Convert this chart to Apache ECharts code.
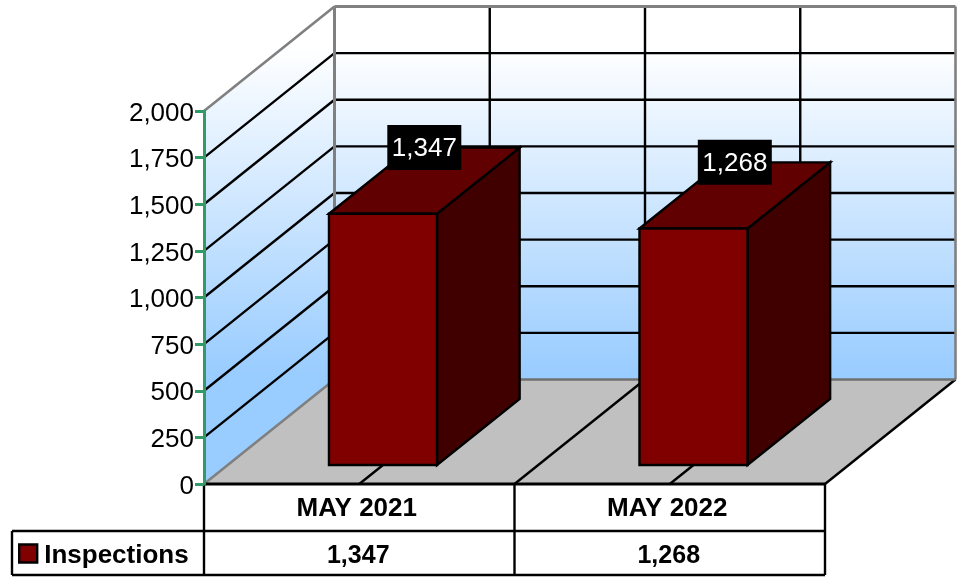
<!DOCTYPE html>
<html>
<head>
<meta charset="utf-8">
<style>html,body{margin:0;padding:0;background:#fff}#c{width:963px;height:577px}</style>
<script src="https://cdn.jsdelivr.net/npm/echarts@6/dist/echarts.min.js"></script>
</head>
<body>
<div id="c"></div>
<script>
const categories = ['MAY 2021', 'MAY 2022'];
const seriesName = 'Inspections';
const inspections = [1347, 1268];
const yTicks = [0, 250, 500, 750, 1000, 1250, 1500, 1750, 2000];

const FONT = '"Liberation Sans", Arial, sans-serif';
const DEPTH_X = 130.5, DEPTH_Y = -104.5;
const BAR_FRONT = 0.182, BAR_BACK = 0.815, BAR_WIDTH = 0.348;
const ROW1 = 47, ROW2 = 91, LEGEND_LEFT = 12;
const fmt = v => v.toLocaleString('en-US');
const yMax = yTicks[yTicks.length - 1];
const line = (x1, y1, x2, y2, stroke, w) => ({
  type: 'line', shape: { x1, y1, x2, y2 }, style: { stroke, lineWidth: w || 2.4 }, silent: true
});
const poly = (points, fill, stroke) => ({
  type: 'polygon', shape: { points }, style: { fill, stroke: stroke || 'none', lineWidth: 2.4, lineJoin: 'miter' }, silent: true
});

function renderFrame(params, api) {
  const w = api.size([1, 0])[0];
  const L = api.coord([0, 0])[0] - w / 2;
  const R = L + w * categories.length;
  const y0 = api.coord([0, 0])[1];
  const yT = api.coord([0, yMax])[1];
  const backY0 = y0 + DEPTH_Y, backYT = yT + DEPTH_Y;
  const grad = {
    type: 'linear', global: true, x: 0, y: backYT + 40, x2: 0, y2: backY0 - 5,
    colorStops: [{ offset: 0, color: '#ffffff' }, { offset: 1, color: '#99ccff' }]
  };
  const kids = [];
  kids.push(poly([[L + DEPTH_X, backYT], [R + DEPTH_X, backYT], [R + DEPTH_X, backY0], [L + DEPTH_X, backY0]], grad));
  kids.push(poly([[L, yT], [L + DEPTH_X, backYT], [L + DEPTH_X, backY0], [L, y0]], grad));
  kids.push(poly([[L, y0], [L + DEPTH_X, backY0], [R + DEPTH_X, backY0], [R, y0]], '#c0c0c0'));
  yTicks.forEach(t => {
    if (t === 0 || t === yMax) return;
    const y = api.coord([0, t])[1];
    kids.push(line(L, y, L + DEPTH_X, y + DEPTH_Y, '#000'));
    kids.push(line(L + DEPTH_X, y + DEPTH_Y, R + DEPTH_X, y + DEPTH_Y, '#000'));
  });
  for (let k = 1; k <= categories.length * 2; k++) {
    const x = L + k * w / 2;
    kids.push(line(x, y0, x + DEPTH_X, backY0, '#000'));
    if (k < categories.length * 2) kids.push(line(x + DEPTH_X, backYT, x + DEPTH_X, backY0, '#000'));
  }
  kids.push(line(L, yT, L + DEPTH_X, backYT, '#808080', 2.6));
  kids.push(line(L + DEPTH_X, backYT, R + DEPTH_X, backYT, '#808080', 3));
  kids.push(line(L + DEPTH_X, backYT, L + DEPTH_X, backY0, '#808080', 3));
  kids.push(line(R + DEPTH_X, backYT, R + DEPTH_X, backY0, '#808080', 2.6));
  kids.push(line(L + DEPTH_X, backY0, R + DEPTH_X, backY0, '#707070', 2.6));
  kids.push(line(L, y0, L + DEPTH_X, backY0, '#808080', 2.6));
  return { type: 'group', children: kids };
}

function renderBar(params, api) {
  const i = api.value(0), v = api.value(1);
  const w = api.size([1, 0])[0];
  const c = api.coord([i, 0]);
  const top = api.coord([i, v]);
  const bw = w * BAR_WIDTH;
  const fx = c[0] - bw / 2 + DEPTH_X * BAR_FRONT, fx2 = fx + bw;
  const fy = c[1] + DEPTH_Y * BAR_FRONT, ty = top[1] + DEPTH_Y * BAR_FRONT;
  const dx = DEPTH_X * (BAR_BACK - BAR_FRONT), dy = DEPTH_Y * (BAR_BACK - BAR_FRONT);
  return {
    type: 'group',
    children: [
      poly([[fx2, ty], [fx2 + dx, ty + dy], [fx2 + dx, fy + dy], [fx2, fy]], '#400000', '#000'),
      poly([[fx, ty], [fx + dx, ty + dy], [fx2 + dx, ty + dy], [fx2, ty]], '#600000', '#000'),
      poly([[fx, ty], [fx2, ty], [fx2, fy], [fx, fy]], '#800000', '#000'),
      {
        type: 'rect', silent: true,
        shape: { x: (fx + fx2 + dx) / 2 - 37, y: ty + dy - 22.5, width: 74, height: 45 },
        style: { fill: '#000' }
      },
      {
        type: 'text', silent: true,
        x: (fx + fx2 + dx) / 2, y: ty + dy + 1,
        style: { text: fmt(v), fill: '#fff', font: '26px ' + FONT, align: 'center', verticalAlign: 'middle' }
      }
    ]
  };
}

function renderTable(params, api) {
  const w = api.size([1, 0])[0];
  const L = api.coord([0, 0])[0] - w / 2;
  const R = L + w * categories.length;
  const y0 = api.coord([0, 0])[1];
  const y1 = y0 + ROW1, y2 = y0 + ROW2;
  const kids = [
    { type: 'rect', silent: true, shape: { x: L, y: y0, width: R - L, height: ROW2 }, style: { fill: '#fff' } },
    line(L, y0, R, y0, '#000', 3),
    line(LEGEND_LEFT, y1, R, y1, '#000', 2.4),
    line(LEGEND_LEFT, y2, R, y2, '#000', 2.4),
    line(LEGEND_LEFT, y1, LEGEND_LEFT, y2, '#000', 2.4)
  ];
  for (let k = 0; k <= categories.length; k++) {
    const x = L + k * w;
    kids.push(line(x, y0, x, y2, '#000', 2.4));
  }
  inspections.forEach((v, i) => {
    kids.push({
      type: 'text', silent: true, x: L + (i + 0.5) * w - 1, y: (y1 + y2) / 2 + 3,
      style: { text: fmt(v), fill: '#000', font: 'bold 25px ' + FONT, align: 'center', verticalAlign: 'middle' }
    });
  });
  return { type: 'group', children: kids };
}

const chart = echarts.init(document.getElementById('c'), null, { renderer: 'canvas' });
chart.setOption({
  animation: false,
  backgroundColor: '#fff',
  grid: { left: 204, right: 138, top: 111, bottom: 93, containLabel: false },
  xAxis: {
    type: 'category', data: categories,
    axisLine: { show: false }, axisTick: { show: false }, splitLine: { show: false },
    z: 20,
    axisLabel: { color: '#000', fontFamily: FONT, fontSize: 26, fontWeight: 'bold', margin: 12, lineHeight: 26, padding: [0, 5, 0, 0] }
  },
  yAxis: {
    type: 'value', min: 0, max: yMax, interval: 250,
    splitLine: { show: false },
    axisLine: { show: true, lineStyle: { color: '#339966', width: 3 } },
    axisTick: { show: true, length: 9, lineStyle: { color: '#339966', width: 3 } },
    axisLabel: {
      color: '#000', margin: 10,
      formatter: v => '{t|' + fmt(v) + '}',
      rich: { t: { color: '#000', fontFamily: FONT, fontSize: 26, padding: [5, 0, 0, 0] } }
    },
    z: 20
  },
  legend: {
    left: 18, top: 543, padding: 0, itemWidth: 18, itemHeight: 18, itemGap: 4,
    selectedMode: false, z: 30,
    data: [{ name: seriesName, icon: 'rect', itemStyle: { color: '#800000', borderColor: '#000', borderWidth: 2.4 } }],
    formatter: n => '{t|' + n + '}',
    textStyle: { rich: { t: { color: '#000', fontFamily: FONT, fontSize: 26, fontWeight: 'bold', padding: [5, 0, 0, 2] } } }
  },
  series: [
    { type: 'custom', name: 'frame', silent: true, clip: false, z: 1, data: [[0, 0]], encode: { x: 0, y: 1 }, renderItem: renderFrame },
    { type: 'custom', name: 'table', silent: true, clip: false, z: 2, data: [[0, 0]], encode: { x: 0, y: 1 }, renderItem: renderTable },
    {
      type: 'custom', name: seriesName, clip: false, z: 3,
      itemStyle: { color: '#800000' },
      data: inspections.map((v, i) => [i, v]), encode: { x: 0, y: 1 }, renderItem: renderBar
    }
  ]
});
</script>
</body>
</html>
